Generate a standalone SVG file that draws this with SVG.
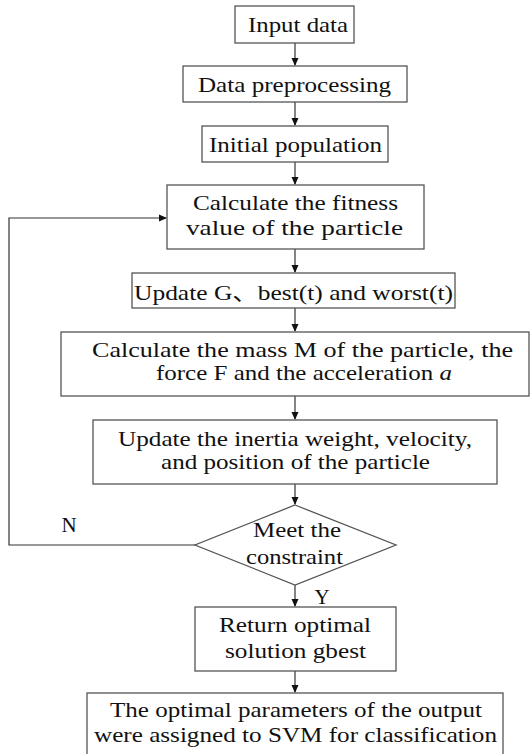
<svg xmlns="http://www.w3.org/2000/svg" width="531" height="754" viewBox="0 0 531 754">
<style>
.box{fill:#fff;stroke:#555;stroke-width:1.3}
.t{font-family:"Liberation Serif","Times New Roman","Noto Sans CJK SC",serif;font-size:22px;fill:#111;text-anchor:middle}
.lbl{font-family:"Liberation Serif","Times New Roman",serif;font-size:21px;fill:#111;text-anchor:middle}
.c{fill:none;stroke:#333;stroke-width:1.2}
</style>
<defs>
<marker id="ah" markerWidth="8" markerHeight="8" refX="7" refY="4" orient="auto" markerUnits="userSpaceOnUse">
<path d="M0,0.5 L8,4 L0,7.5 Z" fill="#111"/>
</marker>
</defs>
<rect width="531" height="754" fill="#fff"/>
<g id="connectors">
<line class="c" x1="295" y1="43" x2="295" y2="65" marker-end="url(#ah)"/>
<line class="c" x1="295" y1="102" x2="295" y2="125" marker-end="url(#ah)"/>
<line class="c" x1="295" y1="162" x2="295" y2="184" marker-end="url(#ah)"/>
<line class="c" x1="295" y1="249" x2="295" y2="272" marker-end="url(#ah)"/>
<line class="c" x1="295" y1="308" x2="295" y2="331" marker-end="url(#ah)"/>
<line class="c" x1="295" y1="396" x2="295" y2="419" marker-end="url(#ah)"/>
<line class="c" x1="295" y1="484" x2="295" y2="504" marker-end="url(#ah)"/>
<line class="c" x1="295" y1="585" x2="295" y2="606" marker-end="url(#ah)"/>
<line class="c" x1="295" y1="671" x2="295" y2="692" marker-end="url(#ah)"/>
<polyline class="c" points="195,545 9,545 9,218 166,218" marker-end="url(#ah)"/>
<text class="lbl" x="69" y="532">N</text>
<text class="lbl" x="322" y="604">Y</text>
</g>
<g id="input"><rect class="box" x="235" y="6" width="119" height="37"/><text class="t" x="298" y="32" textLength="100" lengthAdjust="spacingAndGlyphs">Input data</text></g>
<g id="preprocess"><rect class="box" x="183" y="66" width="224" height="36"/><text class="t" x="294.5" y="92" textLength="193" lengthAdjust="spacingAndGlyphs">Data preprocessing</text></g>
<g id="init"><rect class="box" x="202" y="126" width="186" height="36"/><text class="t" x="295.5" y="152" textLength="173" lengthAdjust="spacingAndGlyphs">Initial population</text></g>
<g id="fitness"><rect class="box" x="167" y="185" width="257" height="64"/><text class="t" x="295.5" y="210" textLength="205" lengthAdjust="spacingAndGlyphs">Calculate the fitness</text><text class="t" x="294.5" y="235" textLength="217" lengthAdjust="spacingAndGlyphs">value of the particle</text></g>
<g id="updateG"><rect class="box" x="132" y="273" width="323" height="35"/><text class="t" x="293.5" y="300" textLength="319" lengthAdjust="spacingAndGlyphs">Update G、best(t) and worst(t)</text></g>
<g id="mass"><rect class="box" x="61" y="332" width="468" height="64"/><text class="t" x="302.5" y="357" textLength="421" lengthAdjust="spacingAndGlyphs">Calculate the mass M of the particle, the</text><text class="t" x="304" y="380" textLength="296" lengthAdjust="spacingAndGlyphs">force F and the acceleration <tspan font-style="italic">a</tspan></text></g>
<g id="updateW"><rect class="box" x="93" y="420" width="404" height="64"/><text class="t" x="295" y="446" textLength="354" lengthAdjust="spacingAndGlyphs">Update the inertia weight, velocity,</text><text class="t" x="295.5" y="469" textLength="269" lengthAdjust="spacingAndGlyphs">and position of the particle</text></g>
<g id="decision"><polygon class="box" points="295,505 396,545 295,585 195,545"/><text class="t" x="297" y="537" textLength="88" lengthAdjust="spacingAndGlyphs">Meet the</text><text class="t" x="294.5" y="564" textLength="97" lengthAdjust="spacingAndGlyphs">constraint</text></g>
<g id="return"><rect class="box" x="195" y="607" width="201" height="64"/><text class="t" x="295" y="632" textLength="152" lengthAdjust="spacingAndGlyphs">Return optimal</text><text class="t" x="295.5" y="658" textLength="141" lengthAdjust="spacingAndGlyphs">solution gbest</text></g>
<g id="output"><rect class="box" x="87" y="693" width="416" height="75"/><text class="t" x="296" y="717" textLength="372" lengthAdjust="spacingAndGlyphs">The optimal parameters of the output</text><text class="t" x="295.5" y="742" textLength="403" lengthAdjust="spacingAndGlyphs">were assigned to SVM for classification</text></g>
</svg>
